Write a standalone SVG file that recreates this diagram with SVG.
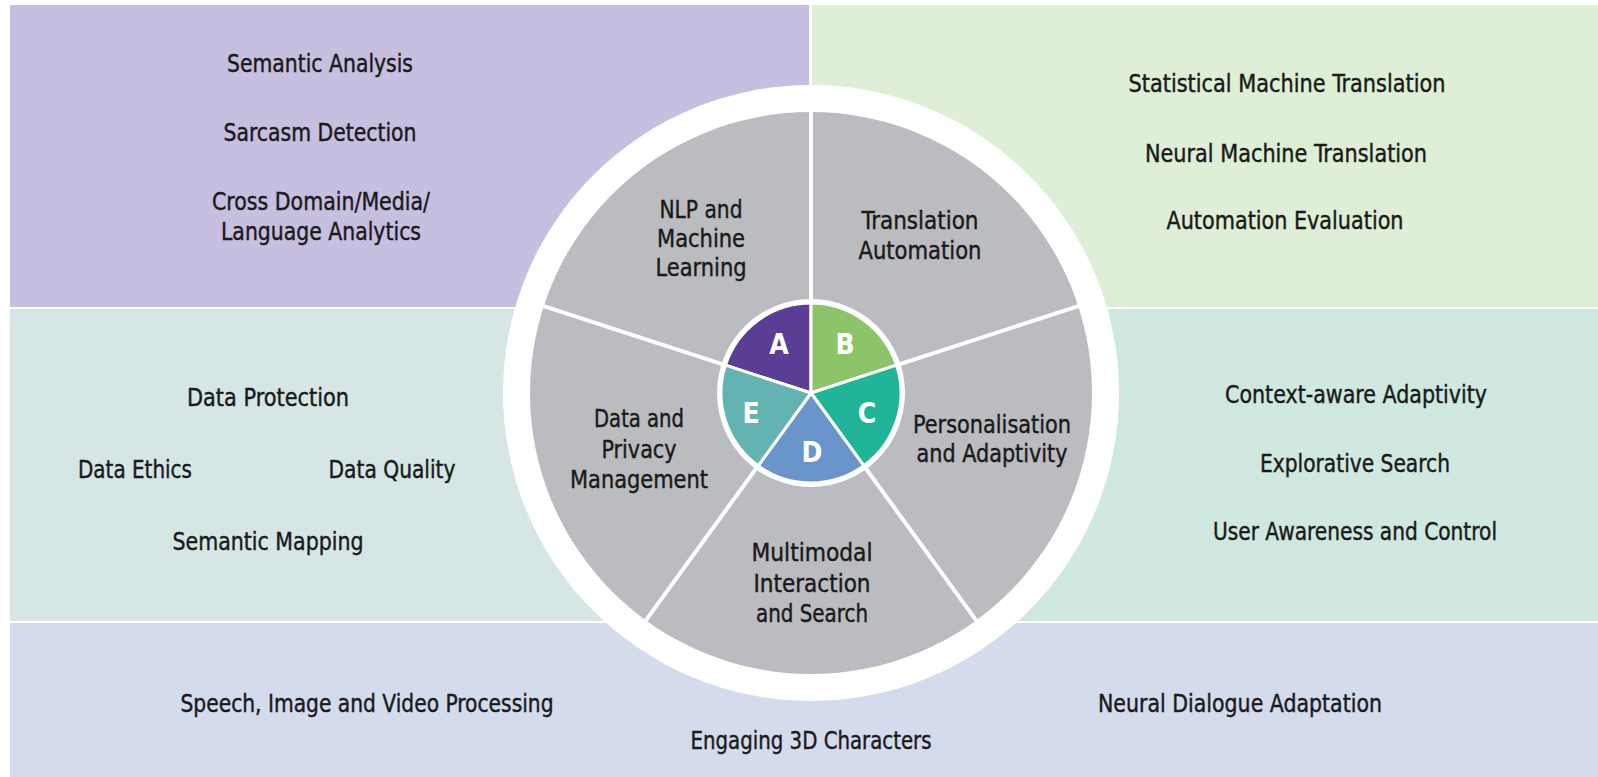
<svg xmlns="http://www.w3.org/2000/svg" width="1598" height="777" viewBox="0 0 1598 777">
  <style>
    .t { font-family: "Liberation Sans Narrow", "DejaVu Sans Condensed", "Liberation Sans", sans-serif; font-size: 24px; fill: #1a1a1a; text-anchor: middle; stroke: #1a1a1a; stroke-width: 0.4; }
    .lt { font-family: "DejaVu Sans Condensed", "Liberation Sans", sans-serif; font-size: 28px; font-weight: bold; fill: #ffffff; text-anchor: middle; }
    .div { stroke: #ffffff; stroke-width: 4; }
    .sec { stroke: #ffffff; stroke-width: 3; stroke-linejoin: round; }
  </style>
  <rect x="0" y="0" width="1598" height="777" fill="#ffffff"/>

  <g id="panel-nlp">
    <rect x="10" y="5" width="799" height="302" fill="#c6bfdf"/>
    <text class="t" x="320" y="72" textLength="186" lengthAdjust="spacingAndGlyphs">Semantic Analysis</text>
    <text class="t" x="320" y="141" textLength="193" lengthAdjust="spacingAndGlyphs">Sarcasm Detection</text>
    <text class="t" x="321" y="210" textLength="218" lengthAdjust="spacingAndGlyphs">Cross Domain/Media/</text>
    <text class="t" x="321" y="240" textLength="200" lengthAdjust="spacingAndGlyphs">Language Analytics</text>
  </g>

  <g id="panel-translation">
    <rect x="812" y="5" width="786" height="302" fill="#dfeed6"/>
    <text class="t" x="1287" y="92" textLength="317" lengthAdjust="spacingAndGlyphs">Statistical Machine Translation</text>
    <text class="t" x="1286" y="162" textLength="282" lengthAdjust="spacingAndGlyphs">Neural Machine Translation</text>
    <text class="t" x="1285" y="229" textLength="237" lengthAdjust="spacingAndGlyphs">Automation Evaluation</text>
  </g>

  <g id="panel-data">
    <rect x="10" y="309" width="801" height="312" fill="#d5e6e5"/>
    <text class="t" x="268" y="406" textLength="162" lengthAdjust="spacingAndGlyphs">Data Protection</text>
    <text class="t" x="135" y="478" textLength="114" lengthAdjust="spacingAndGlyphs">Data Ethics</text>
    <text class="t" x="392" y="478" textLength="127" lengthAdjust="spacingAndGlyphs">Data Quality</text>
    <text class="t" x="268" y="550" textLength="191" lengthAdjust="spacingAndGlyphs">Semantic Mapping</text>
  </g>

  <g id="panel-personalisation">
    <rect x="811" y="309" width="787" height="312" fill="#cfe8e0"/>
    <text class="t" x="1356" y="403" textLength="262" lengthAdjust="spacingAndGlyphs">Context-aware Adaptivity</text>
    <text class="t" x="1355" y="472" textLength="190" lengthAdjust="spacingAndGlyphs">Explorative Search</text>
    <text class="t" x="1355" y="540" textLength="284" lengthAdjust="spacingAndGlyphs">User Awareness and Control</text>
  </g>

  <g id="panel-multimodal">
    <rect x="10" y="623" width="1588" height="154" fill="#d3dbed"/>
    <text class="t" x="367" y="712" textLength="373" lengthAdjust="spacingAndGlyphs">Speech, Image and Video Processing</text>
    <text class="t" x="811" y="749" textLength="241" lengthAdjust="spacingAndGlyphs">Engaging 3D Characters</text>
    <text class="t" x="1240" y="712" textLength="284" lengthAdjust="spacingAndGlyphs">Neural Dialogue Adaptation</text>
  </g>

  <g id="wheel">
    <circle cx="811" cy="393" r="308" fill="#ffffff"/>
    <circle cx="811" cy="393" r="281" fill="#bbbcbf"/>
  </g>

  <g id="dividers">
    <line class="div" x1="811" y1="393" x2="811" y2="112"/>
    <line class="div" x1="811" y1="393" x2="1078.25" y2="306.17"/>
    <line class="div" x1="811" y1="393" x2="976.17" y2="620.33"/>
    <line class="div" x1="811" y1="393" x2="645.83" y2="620.33"/>
    <line class="div" x1="811" y1="393" x2="543.75" y2="306.17"/>
  </g>

  <g id="sector-nlp">
    <text class="t" x="701" y="218" textLength="83" lengthAdjust="spacingAndGlyphs">NLP and</text>
    <text class="t" x="701" y="247" textLength="88" lengthAdjust="spacingAndGlyphs">Machine</text>
    <text class="t" x="701" y="276" textLength="91" lengthAdjust="spacingAndGlyphs">Learning</text>
  </g>
  <g id="sector-translation">
    <text class="t" x="920" y="229" textLength="117" lengthAdjust="spacingAndGlyphs">Translation</text>
    <text class="t" x="920" y="259" textLength="123" lengthAdjust="spacingAndGlyphs">Automation</text>
  </g>
  <g id="sector-personalisation">
    <text class="t" x="992" y="433" textLength="158" lengthAdjust="spacingAndGlyphs">Personalisation</text>
    <text class="t" x="992" y="462" textLength="151" lengthAdjust="spacingAndGlyphs">and Adaptivity</text>
  </g>
  <g id="sector-multimodal">
    <text class="t" x="812" y="561" textLength="121" lengthAdjust="spacingAndGlyphs">Multimodal</text>
    <text class="t" x="812" y="592" textLength="117" lengthAdjust="spacingAndGlyphs">Interaction</text>
    <text class="t" x="812" y="622" textLength="112" lengthAdjust="spacingAndGlyphs">and Search</text>
  </g>
  <g id="sector-data">
    <text class="t" x="639" y="427" textLength="90" lengthAdjust="spacingAndGlyphs">Data and</text>
    <text class="t" x="639" y="458" textLength="75" lengthAdjust="spacingAndGlyphs">Privacy</text>
    <text class="t" x="639" y="488" textLength="138" lengthAdjust="spacingAndGlyphs">Management</text>
  </g>

  <circle cx="811" cy="393" r="94" fill="#ffffff"/>
  <g id="inner-A">
    <path class="sec" d="M811,393 L725.4,365.19 A90,90 0 0 1 811,303 Z" fill="#5a3e96"/>
    <text class="lt" x="779" y="354">A</text>
  </g>
  <g id="inner-B">
    <path class="sec" d="M811,393 L811,303 A90,90 0 0 1 896.6,365.19 Z" fill="#8cc46a"/>
    <text class="lt" x="845" y="354">B</text>
  </g>
  <g id="inner-C">
    <path class="sec" d="M811,393 L896.6,365.19 A90,90 0 0 1 863.9,465.81 Z" fill="#20b598"/>
    <text class="lt" x="867" y="423">C</text>
  </g>
  <g id="inner-D">
    <path class="sec" d="M811,393 L863.9,465.81 A90,90 0 0 1 758.1,465.81 Z" fill="#6a95cb"/>
    <text class="lt" x="812" y="462">D</text>
  </g>
  <g id="inner-E">
    <path class="sec" d="M811,393 L758.1,465.81 A90,90 0 0 1 725.4,365.19 Z" fill="#63b3b2"/>
    <text class="lt" x="751" y="423">E</text>
  </g>
</svg>
